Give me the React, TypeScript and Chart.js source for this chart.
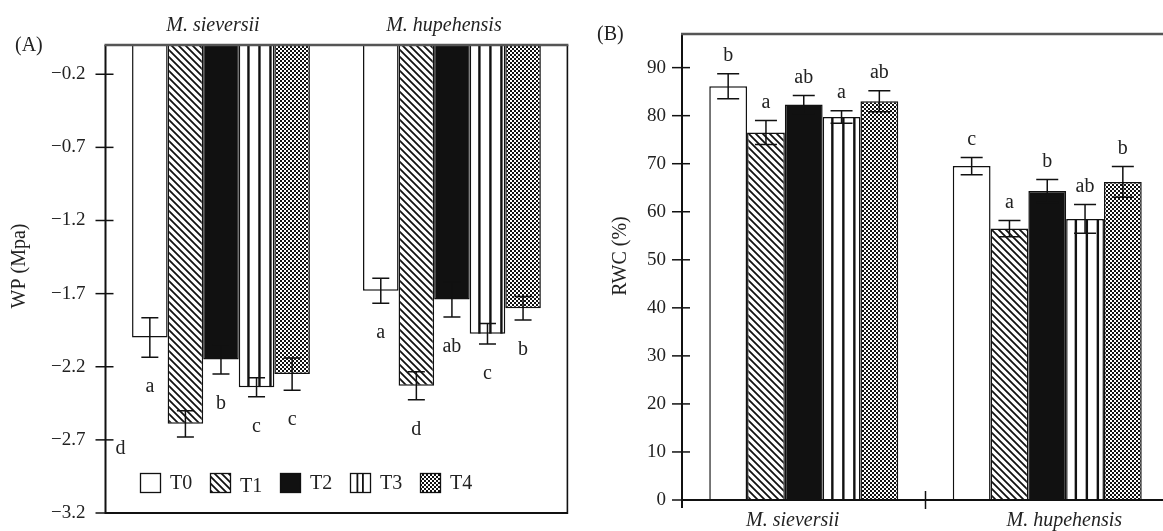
import React, { useEffect, useRef } from "react";
import { Chart, registerables } from "chart.js";
Chart.register(...registerables);

const species = ["M. sieversii", "M. hupehensis"];
const treatments = ["T0", "T1", "T2", "T3", "T4"];

// Panel A: water potential (MPa), rows = T0..T4, cols = species
const wpMean = [
  [-2.0, -1.68],
  [-2.59, -2.33],
  [-2.15, -1.74],
  [-2.34, -1.975],
  [-2.25, -1.8],
];
const wpErr = [
  [0.135, 0.085],
  [0.09, 0.095],
  [0.1, 0.12],
  [0.065, 0.07],
  [0.11, 0.08],
];
const wpLetters = [
  ["a", "a"],
  ["d", "d"],
  ["b", "ab"],
  ["c", "c"],
  ["c", "b"],
];
const wpTicks = [-0.2, -0.7, -1.2, -1.7, -2.2, -2.7, -3.2];

// Panel B: relative water content (%)
const rwcMean = [
  [86.1, 69.5],
  [76.5, 56.5],
  [82.3, 64.3],
  [79.7, 58.5],
  [83.0, 66.2],
];
const rwcErr = [
  [2.6, 1.8],
  [2.5, 1.7],
  [1.9, 2.4],
  [1.3, 3.0],
  [2.2, 3.2],
];
const rwcLetters = [
  ["b", "c"],
  ["a", "a"],
  ["ab", "b"],
  ["a", "ab"],
  ["ab", "b"],
];
const rwcTicks = [0, 10, 20, 30, 40, 50, 60, 70, 80, 90];

const SERIF = '"Liberation Serif", "DejaVu Serif", serif';
const INK = "#111";
const TEXT = "#222";

function makeFills(ctx: CanvasRenderingContext2D): (string | CanvasPattern)[] {
  const d = document.createElement("canvas");
  d.width = 7;
  d.height = 7;
  const g = d.getContext("2d")!;
  g.fillStyle = "#fff";
  g.fillRect(0, 0, 7, 7);
  g.strokeStyle = INK;
  g.lineWidth = 1.8;
  g.beginPath();
  g.moveTo(0, 0);
  g.lineTo(7, 7);
  g.moveTo(-3.5, 3.5);
  g.lineTo(3.5, 10.5);
  g.moveTo(3.5, -3.5);
  g.lineTo(10.5, 3.5);
  g.stroke();
  const diag = ctx.createPattern(d, "repeat")!;

  const c = document.createElement("canvas");
  c.width = 4;
  c.height = 4;
  const h = c.getContext("2d")!;
  h.fillStyle = "#fff";
  h.fillRect(0, 0, 4, 4);
  h.fillStyle = INK;
  h.fillRect(0, 0, 2, 2);
  h.fillRect(2, 2, 2, 2);
  const checker = ctx.createPattern(c, "repeat")!;

  return ["#fff", diag, INK, "#fff", checker];
}

function fmtTick(v: number, dec: number) {
  return (v < 0 ? "\u2212" : "") + Math.abs(v).toFixed(dec);
}

type PanelOpts = {
  mean: number[][];
  err: number[][];
  letters: string[][];
  ticks: number[];
  min: number;
  max: number;
  dec: number;
  xPos: "top" | "bottom";
  xHeight: number;
  xLabelDy: number;
  xLabelDx: number[];
  yWidth: number;
  tickPad: number;
  yTitle: string;
  yTitleX: number;
  yTitleY: number;
  padding: { left: number; right: number; top: number; bottom: number };
  catPct: number;
  capW: number;
  below: boolean;
  letterGap: number;
  nudge: Record<string, [number, number]>;
  box: boolean;
  legend: boolean;
  tag: string;
  tagX: number;
  tagY: number;
};

function buildChart(canvas: HTMLCanvasElement, o: PanelOpts) {
  const ctx = canvas.getContext("2d")!;
  const fills = makeFills(ctx);

  const deco = {
    id: "deco",
    afterDraw(chart: any) {
      const c: CanvasRenderingContext2D = chart.ctx;
      const ca = chart.chartArea;
      const ys = chart.scales.y;
      const xs = chart.scales.x;
      c.save();

      // vertical stripes of T3 bars
      chart.getDatasetMeta(3).data.forEach((el: any) => {
        const p = el.getProps(["x", "y", "base", "width"], true);
        const l = p.x - p.width / 2;
        const t = Math.min(p.y, p.base);
        const hh = Math.abs(p.base - p.y);
        c.save();
        c.beginPath();
        c.rect(l, t, p.width, hh);
        c.clip();
        c.fillStyle = INK;
        for (let sx = l + 8.5; sx < l + p.width - 3; sx += 11) c.fillRect(sx, t, 2.4, hh);
        c.restore();
      });

      // error bars
      c.strokeStyle = INK;
      c.lineWidth = 1.5;
      treatments.forEach((_, k) => {
        chart.getDatasetMeta(k).data.forEach((el: any, j: number) => {
          const m = o.mean[k][j];
          const e = o.err[k][j];
          const x = el.x;
          const y1 = ys.getPixelForValue(m - e);
          const y2 = ys.getPixelForValue(m + e);
          c.beginPath();
          c.moveTo(x, y1);
          c.lineTo(x, y2);
          c.moveTo(x - o.capW / 2, y1);
          c.lineTo(x + o.capW / 2, y1);
          c.moveTo(x - o.capW / 2, y2);
          c.lineTo(x + o.capW / 2, y2);
          c.stroke();
        });
      });

      // significance letters
      c.font = `20px ${SERIF}`;
      c.fillStyle = TEXT;
      c.textAlign = "center";
      c.textBaseline = "middle";
      treatments.forEach((_, k) => {
        chart.getDatasetMeta(k).data.forEach((el: any, j: number) => {
          const m = o.mean[k][j];
          const e = o.err[k][j];
          let x = el.x;
          let y = o.below
            ? ys.getPixelForValue(m - e) + o.letterGap
            : ys.getPixelForValue(m + e) - o.letterGap;
          const n = o.nudge[`${k}-${j}`];
          if (n) {
            x += n[0];
            y += n[1];
          }
          c.fillText(o.letters[k][j], x, y);
        });
      });

      // axes
      c.strokeStyle = INK;
      c.lineWidth = 2;
      c.beginPath();
      c.moveTo(ca.left, ca.top);
      c.lineTo(ca.left, o.box ? ca.bottom + 1 : ca.bottom + 8);
      c.stroke();
      c.beginPath();
      c.moveTo(ca.left, ca.bottom);
      c.lineTo(o.box ? ca.right : chart.width, ca.bottom);
      c.stroke();
      if (o.box) {
        c.lineWidth = 1.6;
        c.beginPath();
        c.moveTo(ca.right, ca.top);
        c.lineTo(ca.right, ca.bottom + 1);
        c.stroke();
      }
      c.strokeStyle = "#555";
      c.lineWidth = 2.4;
      c.beginPath();
      c.moveTo(ca.left - 1, ca.top);
      c.lineTo(o.box ? ca.right + 1 : chart.width, ca.top);
      c.stroke();

      c.strokeStyle = INK;
      c.lineWidth = 1.5;
      o.ticks.forEach((v) => {
        const y = ys.getPixelForValue(v);
        c.beginPath();
        c.moveTo(ca.left - 10, y);
        c.lineTo(ca.left + 8, y);
        c.stroke();
      });
      if (!o.box) {
        const mx = xs.getPixelForValue(0.5);
        c.beginPath();
        c.moveTo(mx, ca.bottom - 9);
        c.lineTo(mx, ca.bottom + 9);
        c.stroke();
      }

      // category labels (species, italic)
      c.fillStyle = TEXT;
      c.font = `italic 20px ${SERIF}`;
      c.textAlign = "center";
      c.textBaseline = "middle";
      const ly = o.xPos === "top" ? ca.top + o.xLabelDy : ca.bottom + o.xLabelDy;
      chart.data.labels.forEach((lab: string, j: number) => {
        c.fillText(lab, xs.getPixelForValue(j) + o.xLabelDx[j], ly);
      });

      // y-axis title
      c.save();
      c.translate(o.yTitleX, o.yTitleY);
      c.rotate(-Math.PI / 2);
      c.font = `20px ${SERIF}`;
      c.textAlign = "center";
      c.textBaseline = "middle";
      c.fillText(o.yTitle, 0, 0);
      c.restore();

      // legend
      if (o.legend) {
        treatments.forEach((t, k) => {
          const bx = ca.left + 34.5 + k * 70;
          const by = ca.bottom - 40;
          const bw = 21;
          const bh = 20;
          c.fillStyle = fills[k] as any;
          c.fillRect(bx, by, bw, bh);
          if (k === 3) {
            c.fillStyle = INK;
            c.fillRect(bx + 6.5, by, 1.8, bh);
            c.fillRect(bx + 12, by, 1.8, bh);
          }
          c.strokeStyle = INK;
          c.lineWidth = 1.3;
          c.strokeRect(bx + 0.5, by + 0.5, bw - 1, bh - 1);
          c.fillStyle = TEXT;
          c.font = `20px ${SERIF}`;
          c.textAlign = "left";
          c.textBaseline = "middle";
          c.fillText(t, bx + bw + 9, by + bh / 2 + (k === 1 ? 4 : 1));
        });
      }

      // panel tag
      c.fillStyle = TEXT;
      c.font = `20px ${SERIF}`;
      c.textAlign = "left";
      c.textBaseline = "middle";
      c.fillText(o.tag, o.tagX, o.tagY);

      c.restore();
    },
  };

  return new Chart(ctx, {
    type: "bar",
    data: {
      labels: species,
      datasets: treatments.map((t, k) => ({
        label: t,
        data: o.mean[k],
        backgroundColor: fills[k] as any,
        borderColor: INK,
        borderWidth: 1.5,
        categoryPercentage: o.catPct,
        barPercentage: 1,
      })),
    },
    options: {
      responsive: false,
      animation: false,
      devicePixelRatio: 1,
      layout: { padding: o.padding },
      plugins: { legend: { display: false }, tooltip: { enabled: false } },
      scales: {
        x: {
          type: "category",
          position: o.xPos,
          grid: { display: false, drawTicks: false },
          border: { display: false },
          ticks: { display: false },
          afterFit: (s: any) => {
            s.height = o.xHeight;
            s.paddingLeft = 0;
            s.paddingRight = 0;
            s.paddingTop = 0;
            s.paddingBottom = 0;
          },
        },
        y: {
          type: "linear",
          min: o.min,
          max: o.max,
          grid: { display: false, drawTicks: false },
          border: { display: false },
          ticks: {
            font: { family: SERIF, size: 19 },
            color: TEXT,
            padding: o.tickPad,
            callback: (v: any) => fmtTick(Number(v), o.dec),
          },
          afterBuildTicks: (s: any) => {
            s.ticks = o.ticks.map((v) => ({ value: v }));
          },
          afterFit: (s: any) => {
            s.width = o.yWidth;
            s.paddingTop = 0;
            s.paddingBottom = 0;
            s.paddingLeft = 0;
            s.paddingRight = 0;
          },
          title: { display: false },
        },
      },
    },
    plugins: [deco],
  } as any);
}

export default function App() {
  const refA = useRef<HTMLCanvasElement>(null);
  const refB = useRef<HTMLCanvasElement>(null);

  useEffect(() => {
    const a = buildChart(refA.current!, {
      mean: wpMean,
      err: wpErr,
      letters: wpLetters,
      ticks: wpTicks,
      min: -3.2,
      max: 0,
      dec: 1,
      xPos: "top",
      xHeight: 45,
      xLabelDy: -19,
      xLabelDx: [-8, -8],
      yWidth: 105.5,
      tickPad: 20,
      yTitle: "WP (Mpa)",
      yTitleX: 19.5,
      yTitleY: 266,
      padding: { left: 0, right: 12.6, top: 0, bottom: 18 },
      catPct: 0.77,
      capW: 17,
      below: true,
      letterGap: 30,
      nudge: { "1-0": [-65, -18] },
      box: true,
      legend: true,
      tag: "(A)",
      tagX: 15,
      tagY: 46,
    });
    const b = buildChart(refB.current!, {
      mean: rwcMean,
      err: rwcErr,
      letters: rwcLetters,
      ticks: rwcTicks,
      min: 0,
      max: 97,
      dec: 0,
      xPos: "bottom",
      xHeight: 31,
      xLabelDy: 21,
      xLabelDx: [-11, 17],
      yWidth: 102,
      tickPad: 16,
      yTitle: "RWC (%)",
      yTitleX: 40.5,
      yTitleY: 256,
      padding: { left: 0, right: 11, top: 34, bottom: 0 },
      catPct: 0.776,
      capW: 22,
      below: false,
      letterGap: 18,
      nudge: {},
      box: false,
      legend: false,
      tag: "(B)",
      tagX: 17,
      tagY: 35,
    });
    return () => {
      a.destroy();
      b.destroy();
    };
  }, []);

  return (
    <div
      style={{
        position: "fixed",
        left: 0,
        top: 0,
        width: 1163,
        height: 531,
        overflow: "hidden",
        background: "#fff",
      }}
    >
      <canvas
        ref={refA}
        width={580}
        height={531}
        style={{ position: "absolute", left: 0, top: 0, width: 580, height: 531 }}
      />
      <canvas
        ref={refB}
        width={600}
        height={531}
        style={{ position: "absolute", left: 580, top: 0, width: 600, height: 531 }}
      />
    </div>
  );
}
